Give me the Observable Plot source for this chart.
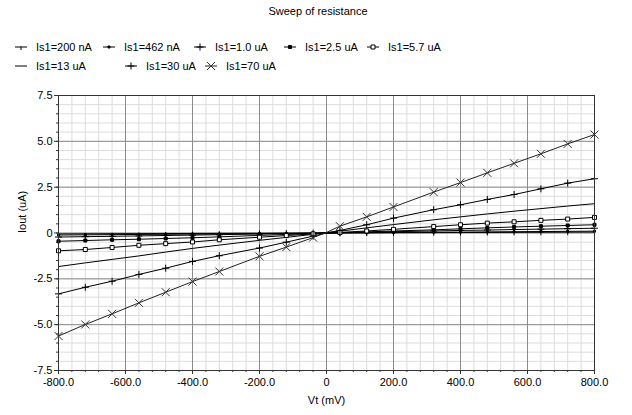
<!DOCTYPE html>
<html>
<head>
<meta charset="utf-8">
<script src="https://cdn.jsdelivr.net/npm/d3@7"></script>
<script src="https://cdn.jsdelivr.net/npm/@observablehq/plot@0.6"></script>
<style>
  html, body { margin: 0; padding: 0; background: #fff; }
  body { width: 632px; height: 415px; position: relative; font-family: "Liberation Sans", Arial, sans-serif; font-size: 11px; color: #000; }
  #header { position: relative; width: 632px; height: 80px; }
  #title { position: absolute; top: 5px; left: 0; width: 636px; text-align: center; }
  .leg { position: absolute; height: 14px; line-height: 14px; white-space: nowrap; }
  .leg svg { position: absolute; top: 0; }
</style>
</head>
<body>
<div id="header"><div id="title"></div></div>
<div id="chart"></div>
<script>
const title = "Sweep of resistance";
const xLabel = "Vt (mV)";
const yLabel = "Iout (uA)";
const seriesNames = ["Is1=200 nA", "Is1=462 nA", "Is1=1.0 uA", "Is1=2.5 uA", "Is1=5.7 uA", "Is1=13 uA", "Is1=30 uA", "Is1=70 uA"];
const vt = [-800, -720, -640, -560, -480, -400, -320, -200, -120, -40, 0, 40, 120, 200, 320, 400, 480, 560, 640, 720, 800];
const i200n = [-0.05, -0.045, -0.04, -0.035, -0.03, -0.025, -0.02, -0.013, -0.008, -0.003, 0, 0.003, 0.008, 0.013, 0.02, 0.025, 0.03, 0.035, 0.04, 0.045, 0.05];
const i462n = [-0.11, -0.10, -0.09, -0.08, -0.07, -0.06, -0.05, -0.03, -0.02, -0.01, 0, 0.005, 0.015, 0.025, 0.04, 0.05, 0.06, 0.07, 0.08, 0.09, 0.10];
const i1u = [-0.22, -0.20, -0.18, -0.16, -0.135, -0.115, -0.09, -0.055, -0.035, -0.01, 0, 0.015, 0.04, 0.07, 0.11, 0.14, 0.16, 0.19, 0.21, 0.235, 0.26];
const i2u5 = [-0.45, -0.41, -0.37, -0.34, -0.30, -0.26, -0.21, -0.13, -0.08, -0.03, 0, 0.02, 0.06, 0.11, 0.17, 0.23, 0.28, 0.33, 0.37, 0.41, 0.45];
const i5u7 = [-0.97, -0.90, -0.79, -0.67, -0.58, -0.49, -0.37, -0.23, -0.14, -0.05, 0, 0.03, 0.11, 0.20, 0.35, 0.45, 0.54, 0.61, 0.69, 0.76, 0.85];
const i13u = [-1.83, -1.63, -1.44, -1.25, -1.04, -0.84, -0.66, -0.40, -0.24, -0.07, 0.02, 0.10, 0.28, 0.46, 0.72, 0.88, 1.04, 1.19, 1.33, 1.47, 1.60];
const i30u = [-3.32, -2.96, -2.63, -2.26, -1.92, -1.55, -1.24, -0.82, -0.50, -0.17, 0, 0.14, 0.45, 0.81, 1.27, 1.54, 1.83, 2.10, 2.41, 2.72, 2.96];
const i70u = [-5.62, -4.99, -4.41, -3.81, -3.23, -2.65, -2.10, -1.27, -0.77, -0.25, 0.03, 0.37, 0.88, 1.42, 2.23, 2.75, 3.28, 3.80, 4.32, 4.86, 5.37];
const xTicks = [-800, -600, -400, -200, 0, 200, 400, 600, 800];
const yTicks = [-7.5, -5, -2.5, 0, 2.5, 5, 7.5];
const xMinor = d3.range(-800, 801, 40);
const yMinor = d3.range(-7.5, 7.51, 0.5);

const allSeries = [i200n, i462n, i1u, i2u5, i5u7, i13u, i30u, i70u];

// marker shapes
const sym = {
  tick: {draw(c) { c.moveTo(0, -0.5); c.lineTo(0, 3); }},
  dotSq: {draw(c) { c.rect(-1, -1, 2, 2); }},
  plus: {draw(c) { c.moveTo(-3.5, 0); c.lineTo(3.5, 0); c.moveTo(0, -3.5); c.lineTo(0, 3.5); }},
  fillSq: {draw(c) { c.rect(-1.5, -1.5, 3, 3); }},
  openSq: {draw(c) { c.rect(-2, -2, 4, 4); }},
  times: {draw(c) { c.moveTo(-4, -4); c.lineTo(4, 4); c.moveTo(-4, 4); c.lineTo(4, -4); }}
};
const styles = [
  {s: sym.tick, fill: "none", stroke: "#000"},
  {s: sym.dotSq, fill: "#000", stroke: "#000"},
  {s: sym.plus, fill: "none", stroke: "#000"},
  {s: sym.fillSq, fill: "#000", stroke: "#000"},
  {s: sym.openSq, fill: "#fff", stroke: "#000"},
  null,
  {s: sym.plus, fill: "none", stroke: "#000"},
  {s: sym.times, fill: "none", stroke: "#333"}
];
const lineColors = ["#000", "#000", "#000", "#000", "#000", "#000", "#000", "#222"];

document.getElementById("title").textContent = title;

// legend
const legendPos = [[36, 47], [124, 47], [215, 47], [305, 47], [388, 47], [36, 66], [146, 66], [226, 66]];
const header = document.getElementById("header");
seriesNames.forEach((name, i) => {
  const [tx, ty] = legendPos[i];
  const div = document.createElement("div");
  div.className = "leg";
  div.style.left = (tx - 24) + "px";
  div.style.top = (ty - 7) + "px";
  div.style.paddingLeft = "24px";
  const svg = d3.create("svg").attr("width", 18).attr("height", 14).style("left", "0px");
  svg.append("line").attr("x1", 3).attr("x2", 15).attr("y1", 7).attr("y2", 7).attr("stroke", lineColors[i]);
  if (styles[i]) {
    svg.append("path").attr("transform", "translate(9,7)")
      .attr("d", d3.symbol(styles[i].s)())
      .attr("fill", styles[i].fill).attr("stroke", styles[i].stroke);
  }
  div.appendChild(svg.node());
  div.appendChild(document.createTextNode(name));
  header.appendChild(div);
});

const fmt = d => d === 0 ? "0" : d.toFixed(1);

const marks = [
  Plot.gridX(xMinor, {stroke: "#dcdcdc", strokeOpacity: 1}),
  Plot.gridY(yMinor, {stroke: "#dcdcdc", strokeOpacity: 1}),
  Plot.gridX(xTicks, {stroke: "#8c8c8c", strokeOpacity: 1}),
  Plot.gridY(yTicks, {stroke: "#8c8c8c", strokeOpacity: 1}),
  Plot.axisX({ticks: xMinor, tickSize: 2, tickFormat: () => "", label: null, stroke: "#333"}),
  Plot.axisY({ticks: yMinor, tickSize: 2, tickFormat: () => "", label: null, stroke: "#333"}),
  Plot.axisX({ticks: xTicks, tickSize: 4, tickPadding: 4, tickFormat: fmt, label: null, stroke: "#333", fontSize: 11}),
  Plot.axisY({ticks: yTicks, tickSize: 4, tickPadding: 2, tickFormat: fmt, label: null, stroke: "#333", fontSize: 11}),
  Plot.text([xLabel], {frameAnchor: "bottom", dy: 33, text: d => d, fontSize: 11}),
  Plot.text([yLabel], {frameAnchor: "left", dx: -36, rotate: -90, text: d => d, fontSize: 11})
];

allSeries.forEach((vals, i) => {
  const data = vt.map((x, k) => ({x, y: vals[k]}));
  marks.push(Plot.line(data, {x: "x", y: "y", stroke: lineColors[i], strokeWidth: 1}));
});
allSeries.forEach((vals, i) => {
  if (!styles[i]) return;
  const data = vt.map((x, k) => ({x, y: vals[k]})).filter(d => d.x !== 0);
  marks.push(Plot.dot(data, {x: "x", y: "y", symbol: styles[i].s, r: 3, fill: styles[i].fill, stroke: styles[i].stroke, strokeWidth: 1}));
});
marks.push(Plot.frame({stroke: "#333"}));

const chart = Plot.plot({
  width: 632,
  height: 335,
  marginLeft: 58,
  marginRight: 38,
  marginTop: 15,
  marginBottom: 45,
  x: {domain: [-800, 800]},
  y: {domain: [-7.5, 7.5]},
  style: {fontFamily: "'Liberation Sans', Arial, sans-serif", fontSize: "11px", color: "#000", background: "#fff", overflow: "visible"},
  marks
});
document.getElementById("chart").appendChild(chart);
</script>
</body>
</html>
